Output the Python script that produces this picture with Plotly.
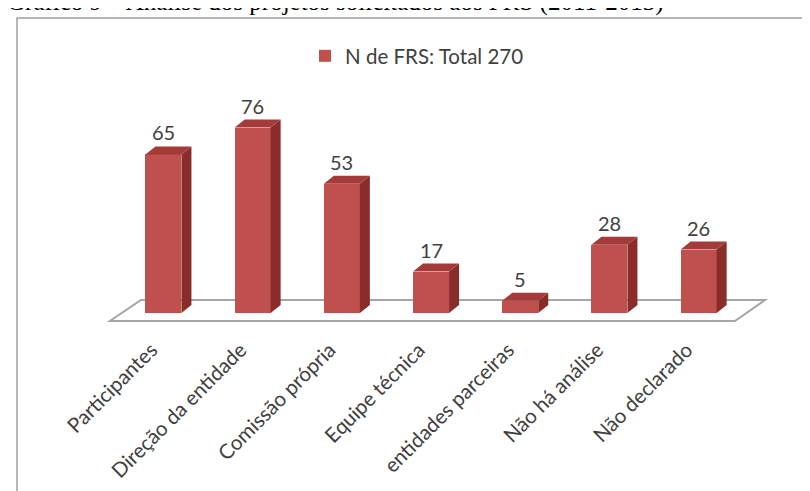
import plotly.graph_objects as go

# ---------------- data ----------------
categories = ["Participantes", "Direção da entidade", "Comissão própria",
              "Equipe técnica", "entidades parceiras", "Não há análise",
              "Não declarado"]
values = [65, 76, 53, 17, 5, 28, 26]
series_name = "N de FRS: Total 270"
title_text = "Gráfico 9 – Análise dos projetos solicitados aos FRS (2011-2013)"

# ---------------- geometry / style ----------------
W, H = 810, 491
ML, MR, MT, MB = 93, 39, 60, 166
plot_w = W - ML - MR
plot_h = H - MT - MB
PX_X = 89.2          # pixels per category
PX_Y = 2.44          # pixels per value unit
X0 = -0.7
Y_ZERO_PX = 305
x_range = [X0, X0 + plot_w / PX_X]
y_top = (Y_ZERO_PX - MT) / PX_Y
y_range = [y_top - plot_h / PX_Y, y_top]

BW = 36 / PX_X                 # bar width in category units
DX = 10 / PX_X                 # bar depth offset (x)
DY = 8 / PX_Y                  # bar depth offset (y)

FRONT = "#C0504D"
SIDE = "#8A2C2A"
TOP = "#A33B38"
TXT = "#404040"
FONT = "Lato"


def xp(px):
    return (px - ML) / plot_w


def yp(py):
    return 1 - (py - MT) / plot_h


xs = list(range(len(categories)))

fig = go.Figure()

# front faces
fig.add_trace(go.Bar(x=xs, y=values, width=BW, name=series_name,
                     marker=dict(color=FRONT, line=dict(width=0)),
                     showlegend=True, hoverinfo="skip"))

# side faces
sx, sy = [], []
for x, v in zip(xs, values):
    r = x + BW / 2
    sx += [r, r, r + DX, r + DX, r, None]
    sy += [0, v, v + DY, DY, 0, None]
fig.add_trace(go.Scatter(x=sx, y=sy, mode="lines", fill="toself",
                         fillcolor=SIDE, line=dict(width=0, color=SIDE),
                         showlegend=False, hoverinfo="skip"))

# top faces
tx, ty = [], []
for x, v in zip(xs, values):
    l, r = x - BW / 2, x + BW / 2
    tx += [l, r, r + DX, l + DX, l, None]
    ty += [v, v, v + DY, v + DY, v, None]
fig.add_trace(go.Scatter(x=tx, y=ty, mode="lines", fill="toself",
                         fillcolor=TOP, line=dict(width=0, color=TOP),
                         showlegend=False, hoverinfo="skip"))

# data labels
annotations = []
for x, v in zip(xs, values):
    annotations.append(dict(x=x, y=v, xref="x", yref="y", text=str(v),
                            showarrow=False, yshift=22, yanchor="middle",
                            font=dict(family=FONT, size=20, color=TXT)))

# title (cut by the top of the picture)
annotations.append(dict(x=xp(-3), y=yp(-6), xref="paper", yref="paper",
                        xanchor="left", yanchor="middle", showarrow=False,
                        text=title_text,
                        font=dict(family="Liberation Serif", size=25, color="#000000")))

# floor (3D base plane)
fy_front = -8 / PX_Y
fy_back = 13 / PX_Y
fl_front = (102 - 155.5) / PX_X
fr_front = (727 - 155.5) / PX_X
fl_back = (133 - 155.5) / PX_X
fr_back = (757 - 155.5) / PX_X
floor_path = (f"M{fl_front},{fy_front} L{fr_front},{fy_front} "
              f"L{fr_back},{fy_back} L{fl_back},{fy_back} Z")

shapes = [
    dict(type="path", path=floor_path, xref="x", yref="y", layer="below",
         line=dict(color="#A6A6A6", width=2), fillcolor="white"),
    dict(type="rect", xref="paper", yref="paper",
         x0=xp(9), x1=xp(830), y0=yp(10), y1=yp(520),
         line=dict(color="#A0A0A0", width=1.5), fillcolor="rgba(0,0,0,0)",
         layer="below"),
]

fig.update_layout(
    width=W, height=H,
    margin=dict(l=ML, r=MR, t=MT, b=MB, pad=0, autoexpand=False),
    paper_bgcolor="white", plot_bgcolor="white",
    showlegend=True,
    legend=dict(orientation="h", x=xp(297), y=yp(28), xanchor="left",
                yanchor="top", font=dict(family=FONT, size=20.5, color=TXT),
                bgcolor="rgba(0,0,0,0)", itemclick=False),
    xaxis=dict(range=x_range, tickmode="array", tickvals=xs,
               ticktext=categories, tickangle=-45, showgrid=False,
               zeroline=False, showline=False, ticks="", automargin=False,
               ticklabelshift=-12,
               tickfont=dict(family=FONT, size=20.5, color=TXT), fixedrange=True),
    yaxis=dict(range=y_range, visible=False, showgrid=False, zeroline=False,
               automargin=False, fixedrange=True),
    annotations=annotations,
    shapes=shapes,
    bargap=0,
)

fig.write_html("out.html")
